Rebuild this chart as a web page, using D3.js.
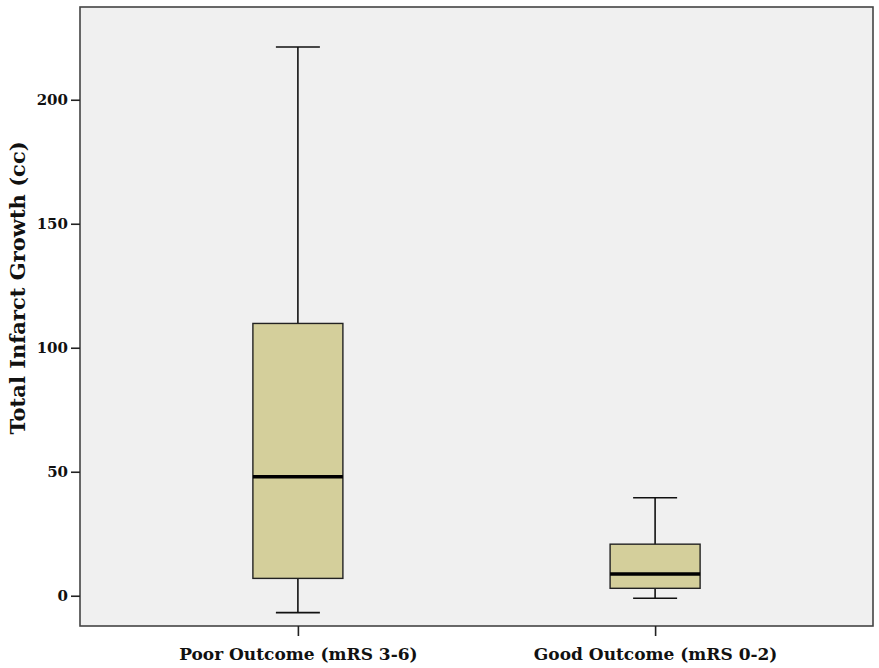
<!DOCTYPE html>
<html><head><meta charset="utf-8">
<script src="https://cdn.jsdelivr.net/npm/d3@7"></script>
<style>body{margin:0;background:#fff}svg{display:block}</style>
</head><body>
<script>
const categories = ["Poor Outcome (mRS 3-6)", "Good Outcome (mRS 0-2)"];
const whiskerLow = [-6.8, -1.0];
const q1 = [7.0, 3.0];
const median = [48.0, 8.8];
const q3 = [109.8, 20.8];
const whiskerHigh = [221.3, 39.5];
const yTicks = [0, 50, 100, 150, 200];
const yTitle = "Total Infarct Growth (cc)";

const W = 879, H = 668;
const m = {left: 80, right: 6, top: 7, bottom: 42};
const svg = d3.select("body").append("svg").attr("width", W).attr("height", H);

const x = d3.scalePoint().domain(categories).range([m.left, W - m.right]).padding(0.61);
const y = d3.scaleLinear().domain([-12.2, 237.4]).range([H - m.bottom, m.top]);

const data = categories.map((c, i) => ({c, lo: whiskerLow[i], q1: q1[i], med: median[i], q3: q3[i], hi: whiskerHigh[i]}));

svg.append("rect").attr("x", m.left).attr("y", m.top)
  .attr("width", W - m.right - m.left).attr("height", H - m.bottom - m.top)
  .attr("fill", "#f0f0f0").attr("stroke", "#444").attr("stroke-width", 1.6);

const boxW = 90, capW = 44;
const g = svg.append("g").selectAll("g").data(data).join("g");
g.append("line").attr("x1", d => x(d.c)).attr("x2", d => x(d.c))
  .attr("y1", d => y(d.lo)).attr("y2", d => y(d.hi)).attr("stroke", "#111").attr("stroke-width", 1.6);
g.append("line").attr("x1", d => x(d.c) - capW/2).attr("x2", d => x(d.c) + capW/2)
  .attr("y1", d => y(d.hi)).attr("y2", d => y(d.hi)).attr("stroke", "#111").attr("stroke-width", 1.6);
g.append("line").attr("x1", d => x(d.c) - capW/2).attr("x2", d => x(d.c) + capW/2)
  .attr("y1", d => y(d.lo)).attr("y2", d => y(d.lo)).attr("stroke", "#111").attr("stroke-width", 1.6);
g.append("rect").attr("x", d => x(d.c) - boxW/2).attr("width", boxW)
  .attr("y", d => y(d.q3)).attr("height", d => y(d.q1) - y(d.q3))
  .attr("fill", "#d4cf9b").attr("stroke", "#222").attr("stroke-width", 1.4);
g.append("line").attr("x1", d => x(d.c) - boxW/2).attr("x2", d => x(d.c) + boxW/2)
  .attr("y1", d => y(d.med)).attr("y2", d => y(d.med)).attr("stroke", "#000").attr("stroke-width", 3.5);

const font = "'DejaVu Serif', serif";
const ya = svg.append("g").attr("transform", `translate(${m.left},0)`)
  .call(d3.axisLeft(y).tickValues(yTicks).tickSize(9).tickPadding(3).tickFormat(d3.format("d")));
ya.select(".domain").remove();
ya.selectAll("line").attr("stroke", "#222").attr("stroke-width", 1.6);
ya.selectAll("text").attr("font-family", font).attr("font-weight", "bold").attr("font-size", 15).attr("fill", "#111");

const xa = svg.append("g").attr("transform", `translate(0,${H - m.bottom})`)
  .call(d3.axisBottom(x).tickSize(10).tickPadding(12));
xa.select(".domain").remove();
xa.selectAll("line").attr("stroke", "#222").attr("stroke-width", 1.6);
xa.selectAll("text").attr("font-family", font).attr("font-weight", "bold").attr("font-size", 17).attr("fill", "#111");

svg.append("text").attr("transform", `translate(25,288) rotate(-90)`)
  .attr("text-anchor", "middle").attr("font-family", font).attr("font-weight", "bold")
  .attr("font-size", 21).attr("fill", "#111").text(yTitle);
</script>
</body></html>
